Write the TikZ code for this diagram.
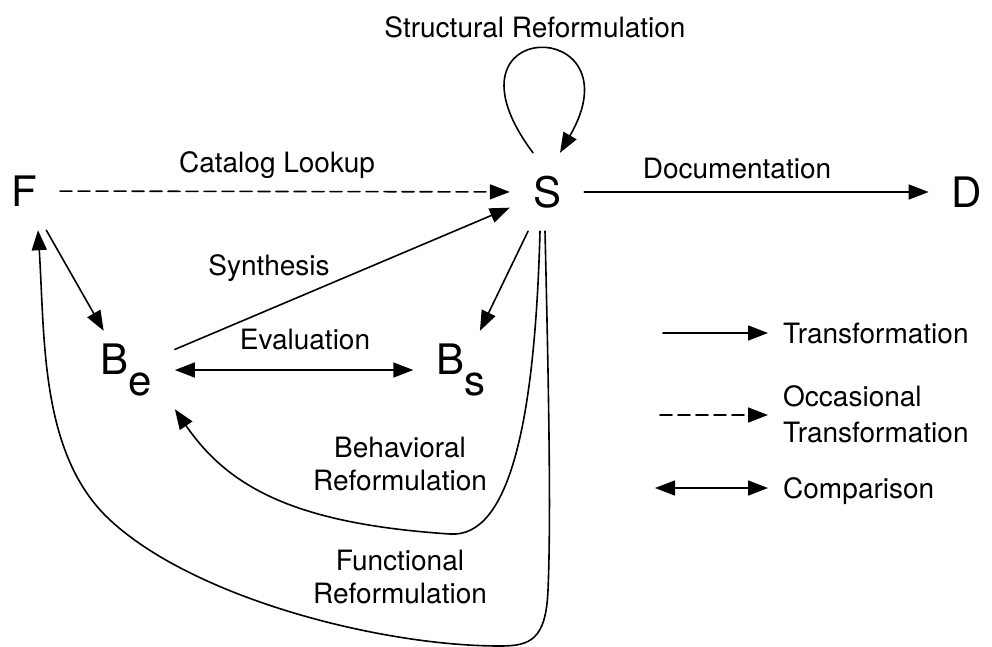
\documentclass[tikz,border=0pt]{standalone}
\usepackage{fontspec}
\setmainfont{TeX Gyre Heros}
\usetikzlibrary{arrows.meta}
\newcommand{\lowsub}[1]{\raisebox{-0.48em}{#1}}
\begin{document}
\begin{tikzpicture}[line cap=round,line join=round,x=1pt,y=-1pt,
	letter/.style={font=\fontsize{42}{42}\selectfont,inner xsep=23pt,inner ysep=0pt,minimum height=78pt},
	lbl/.style={font=\fontsize{28}{33}\selectfont,inner sep=0pt},
	tr/.style={line width=1.6pt,-{Triangle[length=20pt,width=15pt]}},
	occ/.style={tr,dash pattern=on 12pt off 6pt},
	cmp/.style={line width=1.6pt,{Triangle[length=20pt,width=15pt]}-{Triangle[length=20pt,width=15pt]}}]
			\useasboundingbox (0,0) rectangle (992,646);
			\node [letter] (F) at (24,191) {F};
			\node [letter] (S) at (547,192) {S};
			\node [letter] (D) at (967,192) {D};
			\node [letter] (Be) at (126,370) {B\lowsub{e}};
			\node [letter] (Bs) at (461,370) {B\lowsub{s}};
			\draw [occ] (F) -- (S);
			\draw [tr] (S) -- (D);
			\draw [tr] (F) -- (Be);
			\draw [tr] (Be) -- (S);
			\draw [tr] (S) -- (Bs);
			\draw [cmp] (Be) -- (Bs);
			\draw [tr] ([xshift=-14pt]S.north) .. controls (430,15) and (640,15) .. ([xshift=13pt]S.north);
			\draw [tr] ([xshift=-7pt]S.south) .. controls (535,420) and (510,538) .. (450,534) .. controls (300,524) and (230,490) .. (Be.south east);
			\draw [tr] ([xshift=-2pt]S.south) .. controls (549,400) and (551,520) .. (548,590) .. controls (546,640) and (530,646) .. (500,646) .. controls (380,646) and (194,598) .. (110,520) .. controls (40,455) and (45,340) .. ([xshift=14pt]F.south);
			\node [lbl,anchor=base] (struct) at (535,37) {Structural Reformulation};
			\node [lbl,anchor=base] (lookup) at (277,172) {Catalog Lookup};
			\node [lbl,anchor=base] (doc) at (737,178) {Documentation};
			\node [lbl,anchor=base] (synth) at (269,275) {Synthesis};
			\node [lbl,anchor=base] (evalu) at (305,349) {Evaluation};
			\node [lbl,anchor=base,align=center] (behav) at (400,490) {Behavioral\\Reformulation};
			\node [lbl,anchor=base,align=center] (funct) at (400,603) {Functional\\Reformulation};
			% legend
			\coordinate (la) at (663,333);
			\coordinate (lb) at (768,333);
			\coordinate (lc) at (660,415);
			\coordinate (ld) at (768,415);
			\coordinate (le) at (655,488);
			\coordinate (lf) at (768,488);
			\draw [tr] (la) -- (lb);
			\draw [occ] (lc) -- (ld);
			\draw [cmp] (le) -- (lf);
			\node [lbl,anchor=base west] (ltrans) at (783,343) {Transformation};
			\node [lbl,anchor=base west,align=left] (locc) at (783,442) {Occasional\\[3pt]Transformation};
			\node [lbl,anchor=base west] (lcomp) at (783,498) {Comparison};
		\end{tikzpicture}
\end{document}
